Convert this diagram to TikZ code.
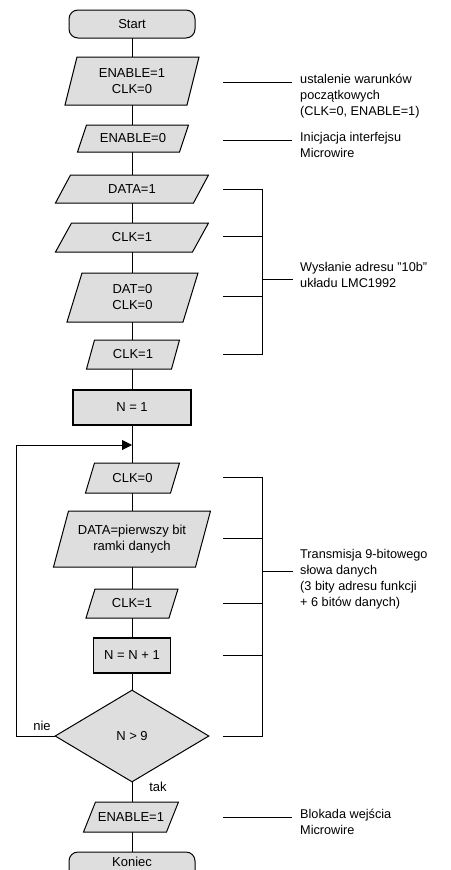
\documentclass[tikz,border=0pt]{standalone}
\usepackage{fontspec}
\setmainfont{Liberation Sans}
\usetikzlibrary{arrows.meta,shapes.geometric}
\definecolor{boxgray}{HTML}{DEDEDE}
\tikzset{
  flow/.style={line width=1pt, draw=black},
  shapefill/.style={fill=boxgray, draw=black, line width=1pt},
  lbl/.style={font=\fontsize{13}{16}\selectfont, align=center, inner sep=0pt},
  note/.style={font=\fontsize{12.7}{16}\selectfont, align=left, anchor=west, inner sep=0pt},
  thin/.style={line width=0.9pt, draw=black},
  procbox/.style={shapefill, line width=1.2pt, rectangle, minimum width=#1, minimum height=35pt, inner sep=0pt, font=\fontsize{13}{16}\selectfont},
  termbox/.style={shapefill, rectangle, rounded corners=9pt, minimum width=126pt, minimum height=28pt, inner sep=0pt, font=\fontsize{13}{16}\selectfont},
}
% parallelogram: name, cx, cy, w, h, slant, text
\newcommand\iobox[7]{%
  \path[shapefill] (#2-#4/2+#6/2,#3-#5/2) -- (#2+#4/2+#6/2,#3-#5/2)
     -- (#2+#4/2-#6/2,#3+#5/2) -- (#2-#4/2-#6/2,#3+#5/2) -- cycle;
  \node[lbl, minimum width=#4-#6, minimum height=#5] (#1) at (#2,#3) {#7};
}
\begin{document}
\begin{tikzpicture}[x=1pt,y=-1pt]
\useasboundingbox (0,0) rectangle (450,870);
\fill[white] (0,0) rectangle (450,870);

% main flow line (drawn under shapes)
\coordinate (top) at (132,24);
\coordinate (bot) at (132,866);
\draw[flow] (top) -- (bot);

\node[termbox] (start) at (132,24) {Start};
\iobox{io1}{132}{81}{122}{48}{12}{ENABLE=1\\CLK=0}
\iobox{io2}{133}{138.5}{102}{27}{9}{ENABLE=0}
\iobox{io3}{132}{189}{138}{28}{15}{DATA=1}
\iobox{io4}{132}{237.5}{137}{29}{16}{CLK=1}
\iobox{io5}{132.5}{297.5}{116}{49}{15}{DAT=0\\CLK=0}
\iobox{io6}{133}{354.5}{85}{29}{8}{CLK=1}
\node[procbox=118pt] (n1) at (132,407.5) {N = 1};
\iobox{io7}{132.5}{478}{85}{30}{9}{CLK=0}
\iobox{io8}{132}{539}{142}{56}{15}{DATA=pierwszy bit\\ramki danych}
\iobox{io9}{132}{603.5}{83}{29}{9}{CLK=1}
\node[procbox=77pt] (n2) at (132,655.5) {N = N + 1};
\node[diamond, shapefill, minimum width=154pt, minimum height=92pt, inner sep=0pt, aspect=1.674] (dec) at (132,736) {};
\node[lbl] (dectxt) at (132,736) {N > 9};
\iobox{io10}{131}{817}{83}{30}{12}{ENABLE=1}
\node[termbox] (end) at (132,866) {};
\node[lbl] (endtxt) at (132,861.5) {Koniec};

% loop back
\coordinate (lp1) at (16,736);
\coordinate (lp2) at (16,445);
\coordinate (lp3) at (132,445);
\draw[flow, -{Triangle[length=10pt,width=10pt]}] (dec.west) -- (lp1) -- (lp2) -- (lp3);
\node[lbl, anchor=base] (nie) at (42,730) {nie};
\node[lbl, anchor=base] (tak) at (158,791) {tak};

% annotations
\coordinate (a1) at (223,82);  \coordinate (a1e) at (292,82);
\draw[thin] (a1) -- (a1e);
\node[note, anchor=north west] (t1) at (300,74) {ustalenie warunków\\początkowych\\(CLK=0, ENABLE=1)};

\coordinate (a2) at (223,140); \coordinate (a2e) at (292,140);
\draw[thin] (a2) -- (a2e);
\node[note, anchor=north west] (t2) at (300,132) {Inicjacja interfejsu\\Microwire};

% bracket 1
\coordinate (b1a) at (223,189); \coordinate (b1b) at (223,236);
\coordinate (b1c) at (223,296); \coordinate (b1d) at (223,354);
\coordinate (b1top) at (262,189); \coordinate (b1bot) at (262,354);
\coordinate (b1bm) at (262,236); \coordinate (b1cm) at (262,296);
\coordinate (b1m) at (262,279); \coordinate (b1me) at (293,279);
\draw[thin] (b1a) -- (b1top) -- (b1bot) -- (b1d);
\draw[thin] (b1b) -- (b1bm);
\draw[thin] (b1c) -- (b1cm);
\draw[thin] (b1m) -- (b1me);
\node[note, anchor=north west] (t3) at (300,262) {Wysłanie adresu "10b"\\układu LMC1992};

% bracket 2
\coordinate (b2a) at (223,477); \coordinate (b2b) at (223,538);
\coordinate (b2c) at (223,603); \coordinate (b2d) at (223,655);
\coordinate (b2e) at (223,736);
\coordinate (b2top) at (262,477); \coordinate (b2bot) at (262,736);
\coordinate (b2bm) at (262,538); \coordinate (b2cm) at (262,603);
\coordinate (b2dm) at (262,655);
\coordinate (b2m) at (262,571); \coordinate (b2me) at (293,571);
\draw[thin] (b2a) -- (b2top) -- (b2bot) -- (b2e);
\draw[thin] (b2b) -- (b2bm);
\draw[thin] (b2c) -- (b2cm);
\draw[thin] (b2d) -- (b2dm);
\draw[thin] (b2m) -- (b2me);
\node[note, anchor=north west] (t4) at (300,549) {Transmisja 9-bitowego\\słowa danych\\(3 bity adresu funkcji\\+ 6 bitów danych)};

\coordinate (a5) at (223,817); \coordinate (a5e) at (292,817);
\draw[thin] (a5) -- (a5e);
\node[note, anchor=north west] (t5) at (300,809) {Blokada wejścia\\Microwire};
\end{tikzpicture}
\end{document}
